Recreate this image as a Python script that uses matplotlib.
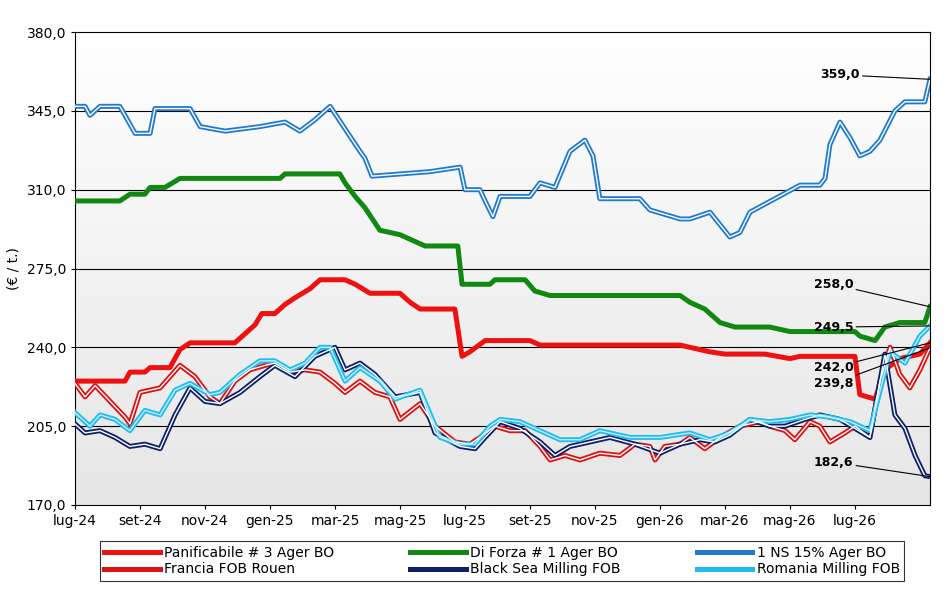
import matplotlib
matplotlib.use("Agg")
import matplotlib.pyplot as plt
import numpy as np
from matplotlib.ticker import FuncFormatter
from matplotlib.colors import LinearSegmentedColormap

# time: months since Jul 2024
tick_labels = ["lug-24","set-24","nov-24","gen-25","mar-25","mag-25","lug-25","set-25","nov-25","gen-26","mar-26","mag-26","lug-26"]

ns_t = [0,0.31,0.46,0.77,1.38,1.85,2.31,2.46,3.54,3.85,4.62,5.69,6.46,6.92,7.38,7.85,8.31,8.77,8.92,9.14,10.92,11.85,12.0,12.46,12.62,12.86,13.08,14.0,14.31,14.77,15.23,15.69,15.94,16.15,17.38,17.69,18.62,18.92,19.54,20.15,20.46,20.77,22.31,22.92,23.08,23.23,23.54,23.85,24.15,24.46,24.77,25.23,25.54,26.15,26.31]
ns_v = [347,347,343,347,347,335,335,346,346,338,336,338,340,336,341,347,337,327,324,316,318,320,310,310,305,298,307,307,313,311,327,332,325,306,306,301,297,297,300,289,291,300,312,312,315,330,340,333,325,327,332,345,349,349,359]

df_t = [0,1.38,1.69,2.15,2.31,2.77,3.23,6.31,6.46,8.15,8.31,8.62,8.92,9.38,10.0,10.77,11.78,11.91,12.77,12.92,13.85,14.15,14.62,18.62,18.92,19.38,19.85,20.31,21.38,22.0,24.0,24.15,24.62,24.92,25.38,26.15,26.31]
df_v = [305,305,308,308,311,311,315,315,317,317,313,307,302,292,290,285,285,268,268,270,270,265,263,263,260,257,251,249,249,247,247,245,243,249,251,251,258]

pa_t = [0,1.54,1.69,2.15,2.31,2.92,3.23,3.54,4.92,5.23,5.54,5.75,6.15,6.46,6.77,7.23,7.54,8.31,8.62,9.08,10.0,10.31,10.62,11.69,11.91,12.15,12.62,14.0,14.31,18.62,18.92,19.54,20.0,21.23,22.0,22.31,24.0,24.15,24.62,24.92,25.38,26.0,26.31]
pa_v = [225,225,229,229,231,231,239,242,242,246,250,255,255,259,262,266,270,270,268,264,264,260,257,257,236,238,243,243,241,241,240,238,237,237,235,236,236,219,217,230,235,237,242]

fr_t = [0,0.31,0.62,1.08,1.54,1.69,2.0,2.62,3.23,3.69,4.15,4.46,4.92,5.38,5.85,6.15,6.62,7.08,7.54,8.0,8.31,8.77,9.23,9.69,10.0,10.62,11.08,11.69,12.15,12.46,12.92,13.38,13.85,14.31,14.62,15.08,15.54,16.15,16.77,17.23,17.69,17.85,18.15,18.62,18.92,19.38,19.85,20.46,21.08,21.38,21.85,22.15,22.62,22.92,23.23,23.69,24.0,24.46,24.77,25.08,25.38,25.69,26.0,26.31]
fr_v = [224,218,223,216,209,206,220,222,232,227,218,215,225,230,232,233,229,230,229,224,220,225,220,218,208,215,205,198,197,200,205,203,203,196,190,192,190,193,192,197,196,190,196,197,200,195,200,205,207,205,203,199,207,205,198,202,205,200,225,240,228,222,230,239.8]

bs_t = [0,0.31,0.77,1.23,1.69,2.15,2.62,3.08,3.54,4.0,4.46,5.08,5.69,6.15,6.77,7.38,8.0,8.31,8.77,9.23,9.85,10.62,11.08,11.85,12.31,12.62,13.08,13.69,14.31,14.77,15.23,15.85,16.46,17.23,18.0,18.62,19.23,19.69,20.15,20.77,21.38,21.85,22.46,22.92,23.54,24.0,24.46,24.92,25.23,25.54,25.85,26.15,26.31]
bs_v = [206,202,203,200,196,197,195,210,222,216,215,220,227,232,227,236,240,230,233,228,218,220,202,196,195,200,207,204,198,192,196,198,200,197,193,197,199,198,201,208,205,205,208,210,208,204,200,237,210,204,192,183,182.6]

ro_t = [0,0.46,0.77,1.23,1.69,2.15,2.62,3.08,3.54,4.15,4.46,5.08,5.69,6.15,6.62,7.08,7.54,7.85,8.31,8.77,9.38,9.85,10.62,11.23,11.85,12.31,12.77,13.08,13.69,14.31,14.92,15.54,16.15,17.08,18.0,18.92,19.54,20.15,20.77,21.38,22.0,22.62,23.23,23.85,24.46,25.08,25.54,26.0,26.31]
ro_v = [211,205,210,208,203,212,210,221,224,219,220,228,234,234,230,233,240,240,225,231,225,217,221,200,197,197,205,208,207,203,199,199,203,200,200,202,199,202,208,207,208,210,209,207,203,238,233,245,249.5]

fig = plt.figure(figsize=(9.52, 5.92), dpi=100)
ax = fig.add_axes([75/952, 87/592, 855/952, 473/592])
xmax = 26.31
bg = LinearSegmentedColormap.from_list("bg", ["#e6e6e6", "#ffffff"])
ax.imshow(np.linspace(1, 0, 256).reshape(-1, 1), cmap=bg, vmin=0, vmax=1,
          extent=[0, xmax, 170, 380], aspect="auto", zorder=0, origin="upper")
ax.set_xlim(0, xmax)
ax.set_ylim(170, 380)
yt = np.arange(170, 381, 35)
ax.set_yticks(yt)
ax.yaxis.set_major_formatter(FuncFormatter(lambda v, p: f"{v:.1f}".replace(".", ",")))
for y in yt[1:-1]:
    ax.axhline(y, color="black", lw=0.8, zorder=1)
ax.set_xticks(np.arange(0, 25, 2))
ax.set_xticklabels(tick_labels)
ax.tick_params(labelsize=10, length=3)
ax.set_ylabel("(€ / t.)", fontsize=10)

def dbl(t, v, c, inner="white", label=None):
    ax.plot(t, v, color=c, lw=3.6, zorder=3, label=label, solid_joinstyle="round")
    ax.plot(t, v, color=inner, lw=1.0, zorder=4)

ax.plot(pa_t, pa_v, color="#ee1111", lw=3.6, zorder=3, label="Panificabile # 3 Ager BO")
ax.plot(df_t, df_v, color="#118811", lw=3.6, zorder=3, label="Di Forza # 1 Ager BO")
dbl(ns_t, ns_v, "#1f7ad0", label="1 NS 15% Ager BO")
dbl(fr_t, fr_v, "#dd1111", label="Francia FOB Rouen")
dbl(bs_t, bs_v, "#0d1f66", label="Black Sea Milling FOB")
dbl(ro_t, ro_v, "#22bbee", inner="#bfeeff", label="Romania Milling FOB")

def ann(txt, tx, ty, v):
    ax.annotate(txt, xy=(xmax, v), xytext=(tx, ty), fontsize=9, fontweight="bold",
                ha="right", va="center",
                arrowprops=dict(arrowstyle="-", color="black", lw=0.8, shrinkA=0, shrinkB=0), zorder=6)

ann("359,0", 24.15, 361, 359)
ann("258,0", 23.95, 268, 258)
ann("249,5", 23.95, 249, 249.5)
ann("242,0", 23.95, 231, 242)
ann("239,8", 23.95, 224, 239.8)
ann("182,6", 23.95, 189, 182.6)

h, l = ax.get_legend_handles_labels()
order = [0, 3, 1, 4, 2, 5]
leg = fig.legend([h[i] for i in order], [l[i] for i in order], ncol=3,
                 loc="center", bbox_to_anchor=(502/952, 1 - 561/592), fontsize=10,
                 frameon=True, fancybox=False, edgecolor="black", handlelength=4,
                 columnspacing=5.5, borderpad=0.3, labelspacing=0.2, handletextpad=0.3)
leg.get_frame().set_linewidth(0.8)
fig.savefig("out.png", dpi=100)
